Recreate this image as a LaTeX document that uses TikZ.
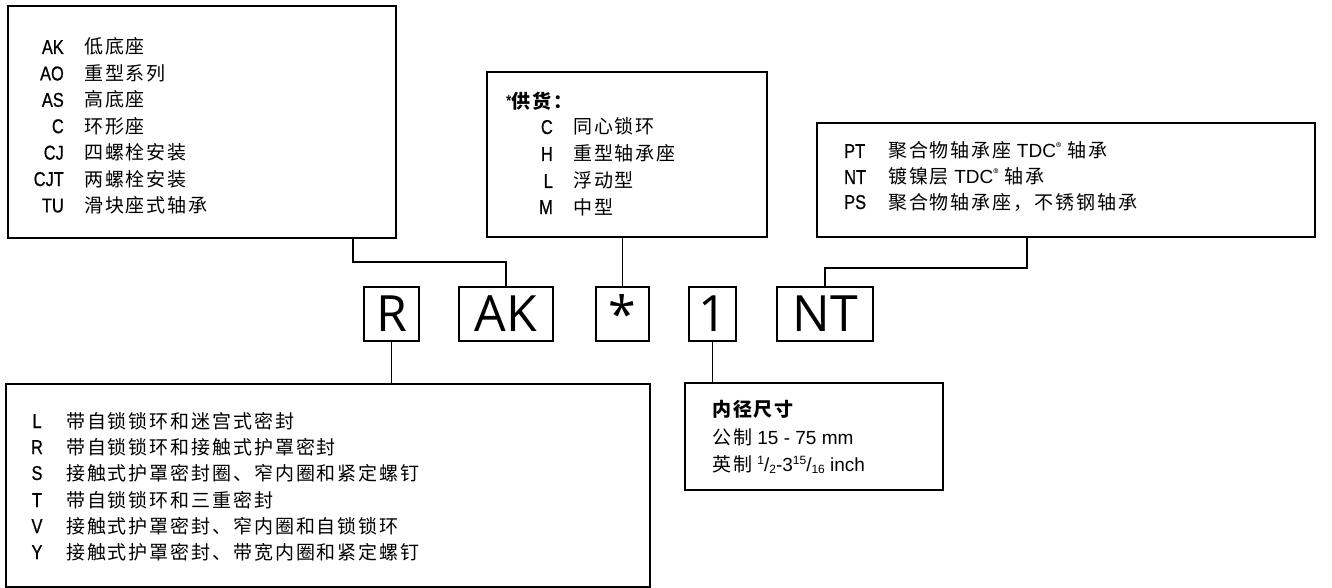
\documentclass[tikz,border=0pt]{standalone}
\usepackage{fontspec}
\setmainfont{Liberation Sans}
\newfontfamily\condfont[FakeStretch=0.82,FakeBold=0.7]{Liberation Sans}
\newfontfamily\cjkfont[LetterSpace=10]{Noto Sans CJK SC}
\newfontfamily\codefont{Open Sans}
\newcommand{\regmark}{\raisebox{6.5pt}{\fontsize{11}{11}\selectfont ®}}
\begin{document}
\begin{tikzpicture}[x=1pt,y=-1pt,
  bigbox/.style={draw, line width=1.6pt, inner sep=0pt, outer sep=0pt, anchor=north west},
  codebox/.style={draw, line width=1.6pt, inner sep=0pt, outer sep=0pt, minimum height=54pt,
    font=\codefont\fontsize{50}{50}\selectfont},
  lbl/.style={inner sep=0pt, font=\condfont\fontsize{20}{22}\selectfont},
  cn/.style={inner sep=0pt, anchor=base west, font=\cjkfont\fontsize{19}{20}\selectfont},
  txt/.style={inner sep=0pt, anchor=base west, font=\fontsize{19}{20}\selectfont},
  conn/.style={line width=1.6pt}]
\useasboundingbox (0,0) rectangle (1332,588);

% big boxes
\node[bigbox, minimum width=388pt, minimum height=232pt] (tl) at (8,6) {};
\node[bigbox, minimum width=280pt, minimum height=165pt] (mid) at (487,72) {};
\node[bigbox, minimum width=498pt, minimum height=114pt] (rt) at (817,123) {};
\node[bigbox, minimum width=644pt, minimum height=203pt] (bl) at (6,384) {};
\node[bigbox, minimum width=258pt, minimum height=107pt] (br) at (685,383) {};

% code boxes
\node[codebox, minimum width=55pt] (r) at (391.5,314) {R};
\node[codebox, minimum width=94pt] (ak) at (506,314) {AK};
\node[codebox, minimum width=53pt] (star) at (622.5,314) {*};
\node[codebox, minimum width=47pt] (one) at (712.5,314) {1};
\node[codebox, minimum width=96pt] (nt) at (825,314) {NT};

% connectors
\draw[conn] ([xshift=345pt]tl.south west) -- ++(0,24) -| (ak.north);
\draw[conn] (star.north) -- (star.north |- mid.south);
\draw[conn] ([xshift=210pt]rt.south west) -- ++(0,31) -| (nt.north);
\draw[conn] (r.south) -- (r.south |- bl.north);
\draw[conn] (one.south) -- (one.south |- br.north);

% top-left box text
\node[lbl, anchor=base east] (tlc1) at (64,54) {AK};
\node[lbl, anchor=base east] (tlc2) at (64,80.4) {AO};
\node[lbl, anchor=base east] (tlc3) at (64,106.8) {AS};
\node[lbl, anchor=base east] (tlc4) at (64,133.2) {C};
\node[lbl, anchor=base east] (tlc5) at (64,159.6) {CJ};
\node[lbl, anchor=base east] (tlc6) at (64,186) {CJT};
\node[lbl, anchor=base east] (tlc7) at (64,212.4) {TU};
\node[cn] (tlt1) at (84,54) {低底座};
\node[cn] (tlt2) at (84,80.4) {重型系列};
\node[cn] (tlt3) at (84,106.8) {高底座};
\node[cn] (tlt4) at (84,133.2) {环形座};
\node[cn] (tlt5) at (84,159.6) {四螺栓安装};
\node[cn] (tlt6) at (84,186) {两螺栓安装};
\node[cn] (tlt7) at (84,212.4) {滑块座式轴承};

% middle box text
\node[cn] (midh) at (506,109) {\raisebox{3pt}{\condfont\fontsize{16}{16}\selectfont *}\bfseries 供货：};
\node[lbl, anchor=base east] (midc1) at (553,134) {C};
\node[lbl, anchor=base east] (midc2) at (553,161) {H};
\node[lbl, anchor=base east] (midc3) at (553,188) {L};
\node[lbl, anchor=base east] (midc4) at (553,214) {M};
\node[cn] (midt1) at (573,134) {同心锁环};
\node[cn] (midt2) at (573,161) {重型轴承座};
\node[cn] (midt3) at (573,188) {浮动型};
\node[cn] (midt4) at (573,214) {中型};

% right box text
\node[lbl, anchor=base west] (rtc1) at (844,158) {PT};
\node[lbl, anchor=base west] (rtc2) at (844,184) {NT};
\node[lbl, anchor=base west] (rtc3) at (844,209) {PS};
\node[cn] (rtt1) at (888,158) {聚合物轴承座{\fontspec{Liberation Sans}\fontsize{19}{20}\selectfont\ TDC}\regmark\ 轴承};
\node[cn] (rtt2) at (888,184) {镀镍层{\fontspec{Liberation Sans}\fontsize{19}{20}\selectfont\ TDC}\regmark\ 轴承};
\node[cn] (rtt3) at (888,209) {聚合物轴承座，不锈钢轴承};

% bottom-left box text
\node[lbl, anchor=base] (blc1) at (37,428) {L};
\node[lbl, anchor=base] (blc2) at (37,454) {R};
\node[lbl, anchor=base] (blc3) at (37,480) {S};
\node[lbl, anchor=base] (blc4) at (37,507) {T};
\node[lbl, anchor=base] (blc5) at (37,533) {V};
\node[lbl, anchor=base] (blc6) at (37,559) {Y};
\node[cn] (blt1) at (66,428) {带自锁锁环和迷宫式密封};
\node[cn] (blt2) at (66,454) {带自锁锁环和接触式护罩密封};
\node[cn] (blt3) at (66,480) {接触式护罩密封圈、窄内圈和紧定螺钉};
\node[cn] (blt4) at (66,507) {带自锁锁环和三重密封};
\node[cn] (blt5) at (66,533) {接触式护罩密封、窄内圈和自锁锁环};
\node[cn] (blt6) at (66,559) {接触式护罩密封、带宽内圈和紧定螺钉};

% bottom-right box text
\node[cn] (brt1) at (712,416) {\bfseries 内径尺寸};
\node[txt] (brt2) at (712,444) {{\cjkfont\fontsize{19}{20}\selectfont 公制}\ 15 - 75 mm};
\node[txt] (brt3) at (712,471) {{\cjkfont\fontsize{19}{20}\selectfont 英制}\ \raisebox{6.5pt}{\fontsize{12}{12}\selectfont 1}/\raisebox{-2pt}{\fontsize{12}{12}\selectfont 2}-3\raisebox{6.5pt}{\fontsize{12}{12}\selectfont 15}/\raisebox{-2pt}{\fontsize{12}{12}\selectfont 16} inch};
\end{tikzpicture}
\end{document}
